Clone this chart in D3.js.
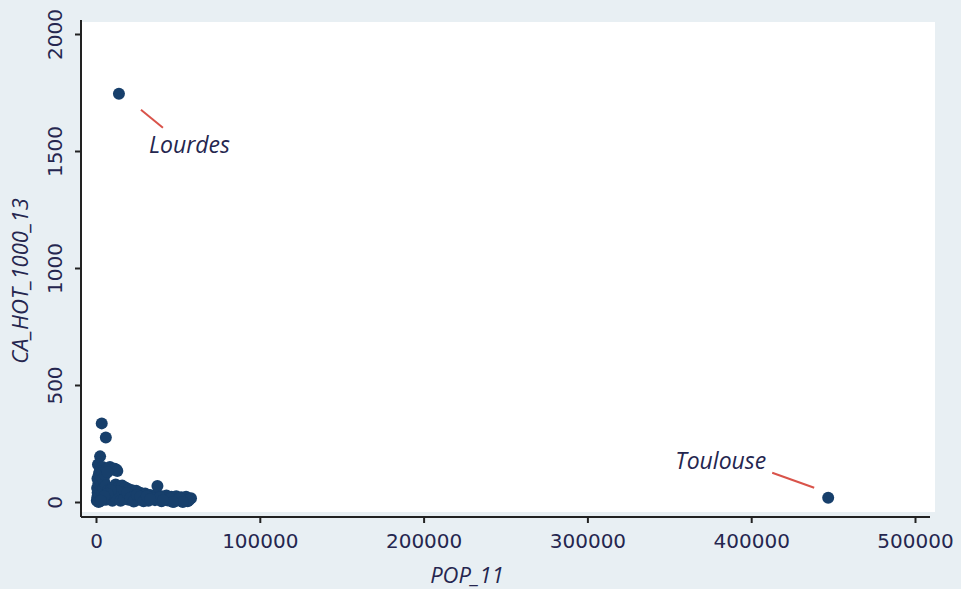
<!DOCTYPE html>
<html><head><meta charset="utf-8">
<script src="https://cdn.jsdelivr.net/npm/d3@7"></script>
<style>body{margin:0;background:#e8eff3;}svg{display:block;}</style>
</head><body>
<script>
// Data: communes (population 2011, hotel turnover per 1000 inhabitants 2013)
const pop = [14000, 447000,
  3500, 6000, 2500, 1200, 4000, 8500, 12500, 10500,
  500, 800, 1000, 700, 1500, 900, 1800, 2200, 1300, 2000, 2500, 3000, 2700, 3200, 3800, 1600, 3500, 4000, 4500, 5000, 4200, 5500,
  6500, 8000, 9500, 11500, 13000, 7000,
  6000, 7500, 9000, 10000, 12000, 14000, 16000, 18000, 20000, 22000, 24500, 27000, 30000, 33000, 36000, 37500, 40000, 43000, 46000, 49000, 52000, 55000, 58000,
  6000, 8000, 10000, 12000, 14000, 16000, 18000, 20000, 22000, 24000, 26000, 28000, 30000, 32000, 34000, 36000, 38000, 40000, 42000, 44000, 46000, 48000, 50000, 52000, 54000, 56000, 57000,
  13000, 11000, 9000, 7000, 5000, 3000, 15000, 17000, 19000, 21000, 23000, 25000, 27000, 29000, 31000, 35000, 39000, 45000, 51000, 53000, 47000, 41000, 33000];
const caHot = [1745, 18,
  336, 276, 195, 160, 150, 150, 138, 142,
  5, 20, 40, 60, 80, 100, 120, 130, 10, 30, 50, 70, 90, 110, 125, 0, 15, 40, 60, 85, 100, 115,
  140, 145, 138, 142, 132, 128,
  70, 50, 30, 60, 75, 65, 70, 62, 55, 50, 48, 40, 36, 30, 28, 68, 25, 28, 22, 25, 20, 22, 16,
  10, 20, 5, 35, 15, 40, 25, 10, 30, 5, 20, 10, 15, 5, 18, 8, 12, 3, 15, 6, 10, 2, 12, 5, 8, 3, 10,
  45, 25, 50, 35, 25, 5, 5, 12, 38, 18, 2, 30, 22, 3, 25, 15, 20, 14, 17, 0, 0, 8, 12];
const labelled = [{name: "Lourdes", idx: 0}, {name: "Toulouse", idx: 1}];
const xTicks = [0, 100000, 200000, 300000, 400000, 500000];
const yTicks = [0, 500, 1000, 1500, 2000];
const xTitle = "POP_11";
const yTitle = "CA_HOT_1000_13";

const W = 961, H = 589;
const svg = d3.select("body").append("svg").attr("width", W).attr("height", H);
svg.append("rect").attr("width", W).attr("height", H).attr("fill", "#e8eff3");
svg.append("rect").attr("x", 82).attr("y", 22).attr("width", 853).attr("height", 490).attr("fill", "#ffffff");

const x = d3.scaleLinear().domain([0, 500000]).range([96, 915]);
const y = d3.scaleLinear().domain([0, 2000]).range([502, 34]);

const txtCol = "#25264f";
const font = "'DejaVu Sans', Verdana, sans-serif";
const italicFont = "'Open Sans', sans-serif";

// axes
const xAxis = svg.append("g").attr("transform", "translate(0,517)")
  .call(d3.axisBottom(x).tickValues(xTicks).tickFormat(d3.format("d")).tickSize(6).tickSizeOuter(0));
xAxis.select(".domain").attr("d", "M81,0H930");
const yAxis = svg.append("g").attr("transform", "translate(81,0)")
  .call(d3.axisLeft(y).tickValues(yTicks).tickFormat(d3.format("d")).tickSize(6).tickSizeOuter(0));
yAxis.select(".domain").attr("d", "M0,20V517");
[xAxis, yAxis].forEach(g => {
  g.selectAll("path,line").attr("stroke", "#222").attr("stroke-width", 2);
  g.selectAll("text").attr("fill", txtCol).style("font-family", font).style("font-size", "20px");
});
xAxis.selectAll("text").attr("y", 17).attr("dy", "0.71em");
yAxis.selectAll("text").attr("x", 0).attr("y", 0).attr("dy", "0.35em")
  .attr("text-anchor", "middle")
  .attr("transform", "translate(-26,0) rotate(-90)");

// titles
svg.append("text").attr("x", 467).attr("y", 583).attr("text-anchor", "middle")
  .attr("fill", txtCol).style("font-family", italicFont).style("font-style", "italic").style("font-size", "22px").text(xTitle);
svg.append("text").attr("transform", "translate(28,281) rotate(-90)").attr("text-anchor", "middle")
  .attr("fill", txtCol).style("font-family", italicFont).style("font-style", "italic").style("font-size", "22px").text(yTitle);

// points
const pts = pop.map((p, i) => ({p, c: caHot[i]}));
svg.append("g").selectAll("circle").data(pts).enter().append("circle")
  .attr("cx", d => x(d.p)).attr("cy", d => y(d.c)).attr("r", 6).attr("fill", "#173f6b");

// labels with connectors
const lab = {
  Lourdes: {dx1: 22, dy1: 16, dx2: 44, dy2: 34, tx: 30, ty: 59},
  Toulouse: {dx1: -14, dy1: -10, dx2: -56, dy2: -25, tx: -153, ty: -29}
};
labelled.forEach(l => {
  const d = pts[l.idx], cx = x(d.p), cy = y(d.c), o = lab[l.name];
  svg.append("line").attr("x1", cx + o.dx1).attr("y1", cy + o.dy1).attr("x2", cx + o.dx2).attr("y2", cy + o.dy2)
    .attr("stroke", "#d9534a").attr("stroke-width", 2);
  svg.append("text").attr("x", cx + o.tx).attr("y", cy + o.ty).attr("fill", txtCol)
    .style("font-family", italicFont).style("font-style", "italic").style("font-size", "23px").text(l.name);
});
</script>
</body></html>
